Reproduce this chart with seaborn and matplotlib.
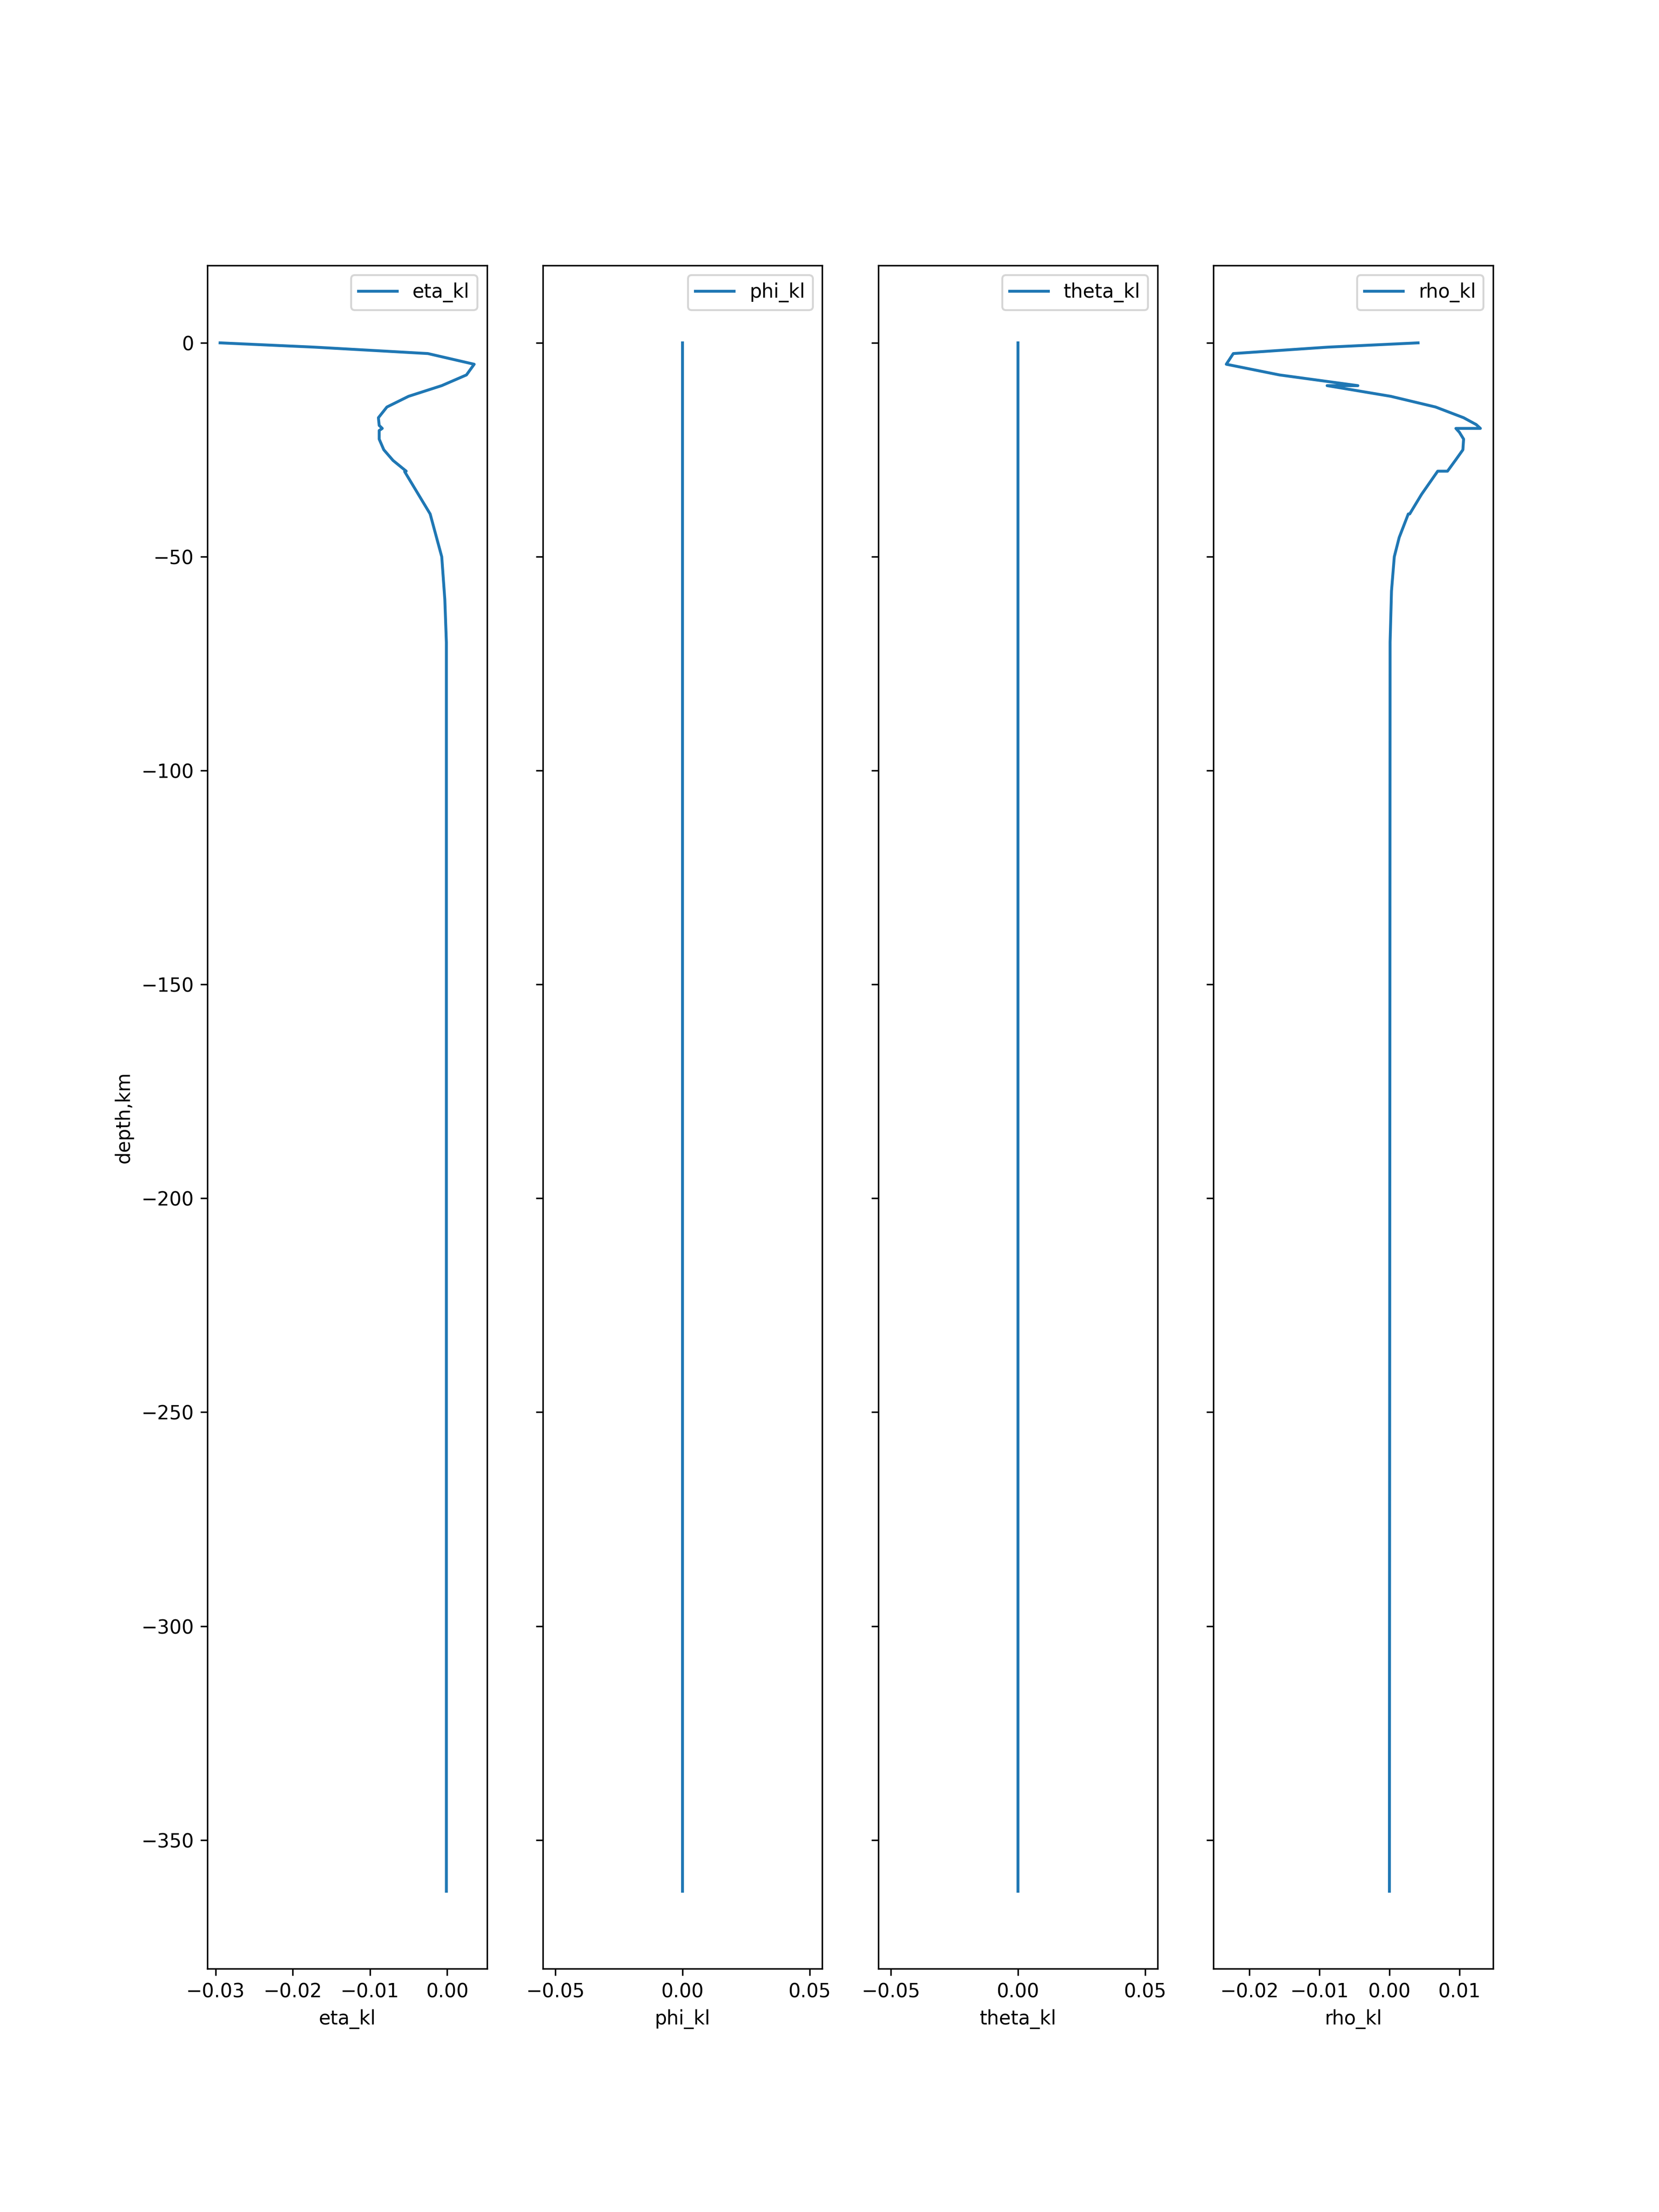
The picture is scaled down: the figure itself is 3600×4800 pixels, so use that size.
import matplotlib
matplotlib.use('Agg')
import matplotlib.pyplot as plt
import seaborn as sns

# depth in km (negative down) and kernel values
eta_depth = [0, -1, -2.5, -5, -7.5, -10, -12.5, -15, -17.5, -19.3, -20, -20.5,
             -22.5, -25, -27.5, -30, -30.1, -40, -50, -60, -70, -362]
eta_kl = [-0.0294, -0.0172, -0.0025, 0.0035, 0.0025, -0.0007, -0.0050, -0.0078,
          -0.0089, -0.0088, -0.0084, -0.0088, -0.0088, -0.0082, -0.0070, -0.0053,
          -0.0055, -0.0022, -0.0007, -0.0003, -0.0001, -0.0001]

flat_depth = [0, -362]
phi_kl = [0.0, 0.0]
theta_kl = [0.0, 0.0]

rho_depth = [0, -1, -2.5, -5, -7.5, -10, -10, -12.5, -15, -17.5, -19.1, -20, -20,
             -20.9, -22.5, -25, -27.3, -30, -30, -35.4, -40, -40, -45.5, -50, -58,
             -70, -362]
rho_kl = [0.0041, -0.0088, -0.0223, -0.0233, -0.0157, -0.0045, -0.0089, 0.0002,
          0.0066, 0.0106, 0.0124, 0.0130, 0.0095, 0.0100, 0.0106, 0.0105, 0.0095,
          0.0083, 0.0069, 0.0046, 0.0029, 0.0027, 0.0014, 0.0007, 0.0003, 0.0001, 0.0]

panels = [
    ('eta_kl', eta_kl, eta_depth),
    ('phi_kl', phi_kl, flat_depth),
    ('theta_kl', theta_kl, flat_depth),
    ('rho_kl', rho_kl, rho_depth),
]

fig, axes = plt.subplots(1, 4, figsize=(12, 16), sharey=True)

for ax, (name, vals, depth) in zip(axes, panels):
    sns.lineplot(x=vals, y=depth, sort=False, estimator=None, ax=ax,
                 color='C0', label=name)
    ax.set_xlabel(name)
    ax.legend(loc='upper right')

axes[0].set_ylabel('depth,km')

plt.savefig('out.png', dpi=300)
plt.close()
